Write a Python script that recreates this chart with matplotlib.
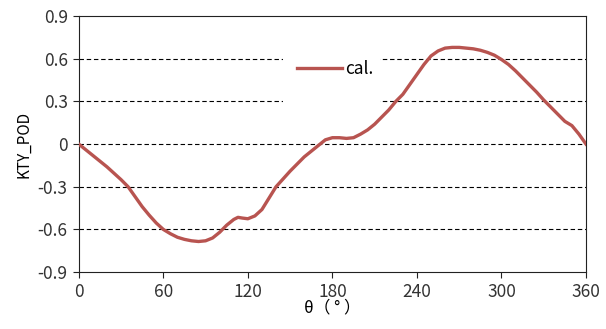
import matplotlib
matplotlib.use("Agg")
import matplotlib.pyplot as plt
from matplotlib.patches import Rectangle

plt.rcParams['font.family'] = ['Noto Sans CJK SC', 'DejaVu Sans']

# curve (theta in degrees)
theta = [0, 10, 20, 30, 35, 40, 45, 50, 55, 60, 65, 70, 75, 80, 85, 90, 95,
         100, 105, 110, 113, 116, 120, 125, 130, 135, 140, 145, 150, 155, 160,
         165, 170, 175, 180, 185, 190, 195, 200, 205, 210, 215, 220, 225, 230,
         235, 240, 245, 250, 255, 260, 265, 270, 275, 280, 285, 290, 295, 300,
         305, 310, 315, 320, 325, 330, 335, 340, 345, 350, 355, 360]
kty_pod = [0, -0.08, -0.16, -0.25, -0.30, -0.37, -0.44, -0.50, -0.555, -0.60,
           -0.63, -0.655, -0.67, -0.68, -0.685, -0.68, -0.66, -0.62, -0.57,
           -0.53, -0.515, -0.52, -0.525, -0.505, -0.46, -0.38, -0.30, -0.245,
           -0.19, -0.14, -0.09, -0.05, -0.01, 0.03, 0.045, 0.045, 0.04, 0.045,
           0.07, 0.10, 0.14, 0.19, 0.24, 0.30, 0.35, 0.42, 0.49, 0.56, 0.62,
           0.655, 0.675, 0.68, 0.68, 0.675, 0.67, 0.66, 0.645, 0.625, 0.595,
           0.56, 0.515, 0.465, 0.415, 0.365, 0.31, 0.26, 0.21, 0.16, 0.13,
           0.07, 0]

xticks = [0, 60, 120, 180, 240, 300, 360]
yticks = [-0.9, -0.6, -0.3, 0, 0.3, 0.6, 0.9]
ytick_labels = ['-0.9', '-0.6', '-0.3', '0', '0.3', '0.6', '0.9']

fig = plt.figure(figsize=(6.06, 3.29), dpi=100)
ax = fig.add_axes([0.130, 0.173, 0.837, 0.778])

# dashed grid, skip the outer limits
for y in yticks[1:-1]:
    ax.axhline(y, color='black', lw=0.8, ls=(0, (4, 2.5)), zorder=1)

# white patch behind the legend (it hides the grid there)
ax.add_patch(Rectangle((0.402, 0.652), 0.192, 0.2, transform=ax.transAxes,
                       facecolor='white', edgecolor='none', zorder=1.8))

ax.plot(theta, kty_pod, color='#B85450', lw=2.4, label='cal.', zorder=3)

ax.set_xlim(0, 360)
ax.set_ylim(-0.9, 0.9)
ax.set_xticks(xticks)
ax.set_yticks(yticks)
ax.set_yticklabels(ytick_labels)
ax.tick_params(direction='out', length=4, width=0.8, labelsize=12.5,
               colors='#222222', labelcolor='#333333', pad=4)
for s in ax.spines.values():
    s.set_linewidth(0.8)
    s.set_color('#222222')

ax.set_xlabel('θ（ ° ）', fontsize=12, labelpad=-1)
ax.set_ylabel('KTY_POD', fontsize=11, labelpad=4)

leg = ax.legend(loc='center left', bbox_to_anchor=(0.40, 0.795), frameon=False,
                handlelength=2.6, handletextpad=0.15, fontsize=12.5)

fig.savefig('out.png', dpi=100)
